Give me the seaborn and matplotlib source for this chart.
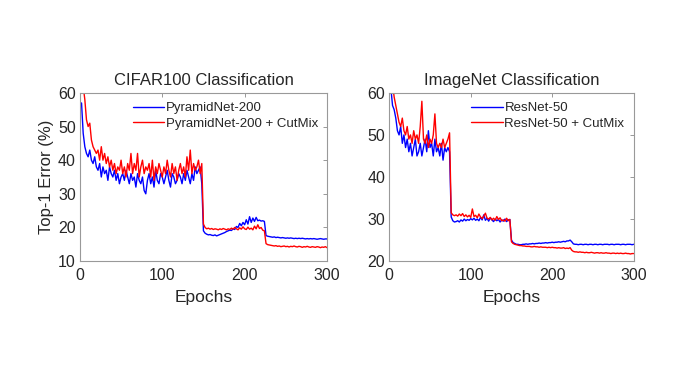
#!/usr/bin/env python3
# coding=utf-8
import matplotlib
matplotlib.use('Agg')
import matplotlib.pyplot as plt
import numpy as np
import pandas as pd
import seaborn as sns

# epochs sampled every 2 epochs
epochs = np.arange(2, 302, 2)

cifar_base = [
    57, 48, 44, 42, 41, 43, 40, 39, 41, 38,
    37, 39, 35, 38, 36, 37, 34, 38, 36, 35,
    37, 34, 36, 33, 35, 36, 34, 37, 35, 33,
    36, 34, 35, 32, 36, 34, 33, 35, 31, 30,
    34, 36, 33, 35, 32, 37, 34, 33, 36, 35,
    33, 35, 37, 34, 32, 36, 35, 33, 34, 36,
    35, 33, 36, 34, 37, 35, 33, 36, 34, 38,
    36, 37, 38, 33, 19.0, 18.3, 18.0, 17.8, 17.9, 17.7,
    17.6, 17.8, 17.5, 17.7, 17.9, 18.1, 18.3, 18.5, 18.8, 19.0,
    19.2, 19.1, 19.6, 19.4, 20.3, 20.0, 21.2, 20.5, 21.5, 20.8,
    22.3, 21.0, 23.2, 21.5, 22.8, 21.8, 23.0, 22.0, 22.2, 21.9,
    22.0, 21.8, 17.6, 17.4, 17.3, 17.2, 17.1, 17.2, 17.0, 17.1,
    17.0, 16.9, 17.0, 16.9, 16.8, 16.9, 16.8, 16.9, 16.8, 16.7,
    16.8, 16.7, 16.8, 16.7, 16.8, 16.7, 16.6, 16.7, 16.6, 16.7,
    16.6, 16.7, 16.6, 16.5, 16.6, 16.7, 16.6, 16.5, 16.6, 16.6,
]
cifar_cutmix = [
    66, 62, 58, 52, 50, 51, 46, 44, 43, 42,
    43, 40, 44, 40, 42, 39, 41, 38, 40, 37,
    39, 36, 38, 37, 40, 36, 38, 35, 39, 37,
    42, 36, 39, 37, 42, 35, 38, 40, 36, 38,
    37, 39, 35, 40, 34, 38, 36, 39, 37, 35,
    38, 36, 40, 37, 35, 39, 36, 38, 34, 37,
    39, 36, 38, 35, 41, 37, 43, 36, 39, 37,
    38, 40, 36, 39, 21.0, 20.0, 19.6, 19.8, 19.5, 19.7,
    19.4, 19.6, 19.5, 19.3, 19.6, 19.4, 19.7, 19.5, 19.3, 19.6,
    19.4, 19.8, 19.5, 20.0, 19.6, 19.3, 19.9, 19.5, 20.2, 19.6,
    19.4, 20.1, 19.5, 19.8, 19.3, 20.4, 19.6, 20.8, 19.7, 20.0,
    19.2, 19.0, 15.2, 14.9, 14.8, 14.7, 14.6, 14.5, 14.6, 14.4,
    14.5, 14.3, 14.4, 14.5, 14.3, 14.4, 14.2, 14.4, 14.3, 14.5,
    14.3, 14.2, 14.4, 14.3, 14.1, 14.3, 14.2, 14.4, 14.2, 14.1,
    14.3, 14.2, 14.1, 14.3, 14.2, 14.0, 14.2, 14.1, 14.3, 14.0,
]
imnet_base = [
    61, 57, 56, 54, 51, 50, 52, 48, 50, 47,
    49, 46, 48, 45, 47, 49, 45, 46, 48, 45,
    47, 49, 46, 51, 47, 48, 45, 49, 46, 47,
    45, 48, 44, 47, 46, 47, 46, 30.5, 29.6, 29.3,
    29.4, 29.6, 29.3, 29.8, 29.5, 30.0, 29.6, 29.9, 29.7, 30.1,
    29.8, 30.2, 29.7, 30.0, 29.6, 30.4, 29.8, 31.0, 29.7, 30.2,
    29.5, 30.3, 29.8, 29.4, 30.0, 29.6, 29.9, 29.3, 29.8, 29.5,
    30.0, 29.4, 29.8, 29.9, 25.0, 24.4, 24.2, 24.0, 24.0, 23.9,
    23.9, 24.0, 24.0, 24.1, 24.0, 24.1, 24.1, 24.2, 24.1, 24.2,
    24.2, 24.3, 24.2, 24.3, 24.3, 24.4, 24.3, 24.4, 24.4, 24.5,
    24.4, 24.5, 24.5, 24.6, 24.5, 24.6, 24.7, 24.6, 24.8, 24.8,
    25.0, 24.6, 24.1, 24.0, 24.0, 23.9, 24.0, 24.0, 23.9, 24.0,
    24.0, 23.9, 24.0, 24.0, 23.9, 24.0, 24.0, 23.9, 24.0, 24.0,
    23.9, 24.0, 24.0, 24.0, 23.9, 24.0, 24.0, 23.9, 24.0, 24.0,
    24.0, 23.9, 24.0, 24.0, 23.9, 24.0, 24.0, 24.0, 23.9, 24.0,
]
imnet_cutmix = [
    64, 62, 59, 57, 55, 53, 52, 54, 51, 50,
    52, 49, 50, 48, 51, 49, 50, 48, 52, 58,
    49, 48, 50, 47, 49, 48, 50, 55, 48, 47,
    48, 47, 49, 47, 48, 49, 50.5, 31.5, 31.0, 30.8,
    31.0, 30.7, 31.2, 30.8, 31.3, 30.6, 31.0, 30.5, 30.9, 30.4,
    32.4, 30.6, 30.9, 30.3, 31.2, 30.5, 30.1, 30.7, 31.4, 30.2,
    30.0, 30.4, 29.8, 30.2, 29.7, 30.6, 29.9, 30.3, 29.6, 29.8,
    29.5, 30.2, 29.6, 29.9, 24.6, 24.2, 24.0, 23.9, 23.8, 23.7,
    23.7, 23.6, 23.6, 23.5, 23.5, 23.5, 23.4, 23.4, 23.5, 23.4,
    23.4, 23.3, 23.4, 23.3, 23.3, 23.3, 23.2, 23.3, 23.2, 23.3,
    23.2, 23.2, 23.1, 23.2, 23.1, 23.1, 23.2, 23.0, 23.1, 23.0,
    23.2, 22.6, 22.3, 22.2, 22.2, 22.1, 22.2, 22.1, 22.1, 22.0,
    22.1, 22.0, 22.0, 22.1, 22.0, 21.9, 22.0, 22.0, 21.9, 22.0,
    21.9, 21.9, 22.0, 21.9, 21.9, 21.8, 21.9, 21.9, 21.8, 21.9,
    21.8, 21.9, 21.8, 21.8, 21.9, 21.8, 21.8, 21.7, 21.8, 21.8,
]

panels = [
    ('CIFAR100 Classification', ['PyramidNet-200', 'PyramidNet-200 + CutMix'],
     [cifar_base, cifar_cutmix], (10, 60)),
    ('ImageNet Classification', ['ResNet-50', 'ResNet-50 + CutMix'],
     [imnet_base, imnet_cutmix], (20, 60)),
]

sns.set_style('white')
plt.rcParams['font.family'] = ['Liberation Sans', 'DejaVu Sans']
plt.rcParams['text.color'] = '#262626'
plt.rcParams['axes.labelcolor'] = '#262626'

fig = plt.figure(figsize=(6.77, 3.79), dpi=100)
boxes = [[0.118, 0.311, 0.365, 0.444], [0.575, 0.311, 0.361, 0.444]]

for i, (title, names, series, ylim) in enumerate(panels):
    ax = fig.add_axes(boxes[i])
    df = pd.DataFrame({
        'epoch': np.concatenate([epochs, epochs]),
        'err': np.concatenate([series[0], series[1]]),
        'model': [names[0]] * len(epochs) + [names[1]] * len(epochs),
    })
    sns.lineplot(data=df, x='epoch', y='err', hue='model', ax=ax,
                 palette=['#0000ff', '#ff0000'], linewidth=1.0, legend=True)
    ax.set_xlim(0, 300)
    ax.set_ylim(*ylim)
    ax.set_xticks([0, 100, 200, 300])
    ax.set_yticks(np.arange(ylim[0], 61, 10))
    ax.tick_params(direction='in', length=3, width=0.6, top=True, right=True,
                   labelsize=11.5, colors='#888888', labelcolor='#262626')
    ax.tick_params(axis='x', pad=5)
    ax.tick_params(axis='y', pad=3)
    for s in ax.spines.values():
        s.set_color('#999999')
        s.set_linewidth(0.8)
    ax.set_title(title, fontsize=12, pad=6)
    ax.set_xlabel('Epochs', fontsize=12.5, labelpad=5)
    if i == 0:
        ax.set_ylabel('Top-1 Error (%)', fontsize=12, labelpad=3)
    else:
        ax.set_ylabel('')
    h, l = ax.get_legend_handles_labels()
    ax.legend(h, l, loc='upper right', frameon=False, fontsize=9.5,
              handlelength=2.4, handletextpad=0.1, labelspacing=0.25,
              borderaxespad=0.3)

fig.savefig('out.png', dpi=100)
